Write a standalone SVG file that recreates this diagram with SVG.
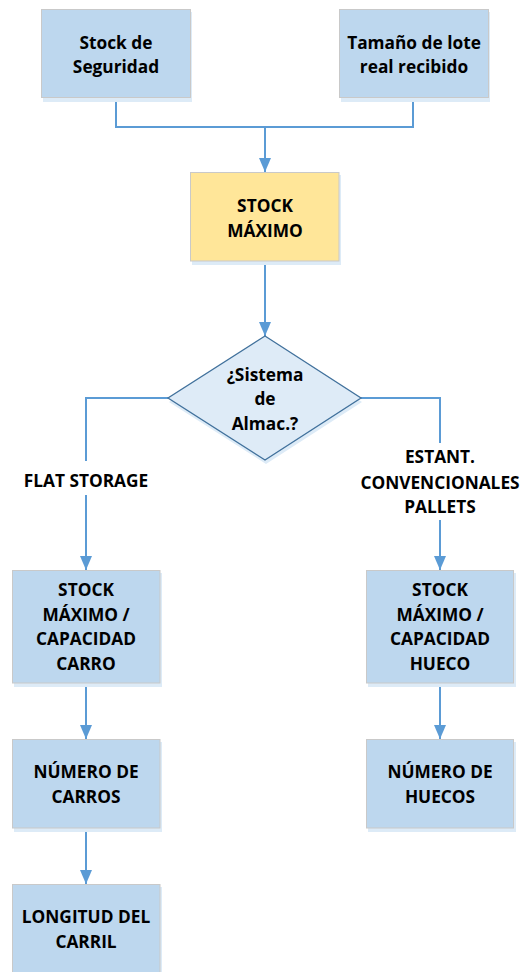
<svg xmlns="http://www.w3.org/2000/svg" width="527" height="972" viewBox="0 0 527 972">
  <defs>
    <marker id="arrow" viewBox="0 0 14 12" refX="14" refY="6" markerWidth="14" markerHeight="12" markerUnits="userSpaceOnUse" orient="auto">
      <path d="M0,0 L14,6 L0,12 Z" fill="#5B9BD5"/>
    </marker>
  </defs>
  <style>
    .box { fill: #BDD7EE; stroke: #C9C9C9; stroke-width: 1; }
    .yellow { fill: #FFE699; stroke: #C9C9C9; stroke-width: 1; }
    .shadow { fill: #DDEBF7; }
    .diamond { fill: #DEEBF7; stroke: #41719C; stroke-width: 1.3; }
    .link { fill: none; stroke: #5B9BD5; stroke-width: 2; }
    text { font-family: "Open Sans", "Liberation Sans", sans-serif; font-weight: bold; font-size: 17.3px; fill: #000; text-anchor: middle; }
  </style>
  <rect width="527" height="972" fill="#FFFFFF"/>

  <!-- connectors -->
  <g id="connectors">
    <polyline class="link" points="116,98 116,127 413,127 413,98"/>
    <line class="link" x1="265" y1="127" x2="265" y2="172" marker-end="url(#arrow)"/>
    <line class="link" x1="265" y1="262" x2="265" y2="336" marker-end="url(#arrow)"/>
    <polyline class="link" points="168,398 86,398 86,461"/>
    <line class="link" x1="86" y1="495" x2="86" y2="570" marker-end="url(#arrow)"/>
    <polyline class="link" points="361,398 440,398 440,443"/>
    <line class="link" x1="440" y1="520" x2="440" y2="570" marker-end="url(#arrow)"/>
    <line class="link" x1="86" y1="683" x2="86" y2="739" marker-end="url(#arrow)"/>
    <line class="link" x1="86" y1="828" x2="86" y2="884" marker-end="url(#arrow)"/>
    <line class="link" x1="440" y1="683" x2="440" y2="739" marker-end="url(#arrow)"/>
  </g>

  <!-- branch labels -->
  <g id="label-flat">
    <text x="86" y="487">FLAT STORAGE</text>
  </g>
  <g id="label-estant">
    <text x="440" y="463">ESTANT.</text>
    <text x="440" y="489">CONVENCIONALES</text>
    <text x="440" y="513">PALLETS</text>
  </g>

  <g id="stock-seguridad">
    <rect class="shadow" x="43" y="12" width="149" height="90"/>
    <rect class="box" x="41.5" y="9.5" width="149" height="88"/>
    <text x="116" y="49">Stock de</text>
    <text x="116" y="73">Seguridad</text>
  </g>

  <g id="tamano-lote">
    <rect class="shadow" x="341" y="12" width="149" height="90"/>
    <rect class="box" x="339.5" y="9.5" width="149" height="88"/>
    <text x="414" y="49">Tamaño de lote</text>
    <text x="414" y="73">real recibido</text>
  </g>

  <g id="stock-maximo">
    <rect class="shadow" x="192" y="175" width="149" height="90"/>
    <rect class="yellow" x="190.5" y="172.5" width="148.5" height="88.5"/>
    <text x="265" y="212">STOCK</text>
    <text x="265" y="237">MÁXIMO</text>
  </g>

  <g id="sistema-almac">
    <polygon class="shadow" points="266,340 362,402 266,464 169,402"/>
    <polygon class="diamond" points="265,336 361,398 265,460 168,398"/>
    <text x="265" y="381">¿Sistema</text>
    <text x="265" y="405">de</text>
    <text x="265" y="430">Almac.?</text>
  </g>

  <g id="capacidad-carro">
    <rect class="shadow" x="14" y="573" width="148" height="114"/>
    <rect class="box" x="12.5" y="570.5" width="147.5" height="112.5"/>
    <text x="86" y="596">STOCK</text>
    <text x="86" y="621">MÁXIMO /</text>
    <text x="86" y="645">CAPACIDAD</text>
    <text x="86" y="670">CARRO</text>
  </g>

  <g id="numero-carros">
    <rect class="shadow" x="14" y="742" width="148" height="90"/>
    <rect class="box" x="12.5" y="739.5" width="147.5" height="88.5"/>
    <text x="86" y="778">NÚMERO DE</text>
    <text x="86" y="803">CARROS</text>
  </g>

  <g id="longitud-carril">
    <rect class="shadow" x="14" y="887" width="148" height="90"/>
    <rect class="box" x="12.5" y="884.5" width="147.5" height="90"/>
    <text x="86" y="923">LONGITUD DEL</text>
    <text x="86" y="948">CARRIL</text>
  </g>

  <g id="capacidad-hueco">
    <rect class="shadow" x="368" y="573" width="148" height="114"/>
    <rect class="box" x="366.5" y="570.5" width="147" height="112.5"/>
    <text x="440" y="596">STOCK</text>
    <text x="440" y="621">MÁXIMO /</text>
    <text x="440" y="645">CAPACIDAD</text>
    <text x="440" y="670">HUECO</text>
  </g>

  <g id="numero-huecos">
    <rect class="shadow" x="368" y="742" width="148" height="90"/>
    <rect class="box" x="366.5" y="739.5" width="147" height="88.5"/>
    <text x="440" y="778">NÚMERO DE</text>
    <text x="440" y="803">HUECOS</text>
  </g>
</svg>
